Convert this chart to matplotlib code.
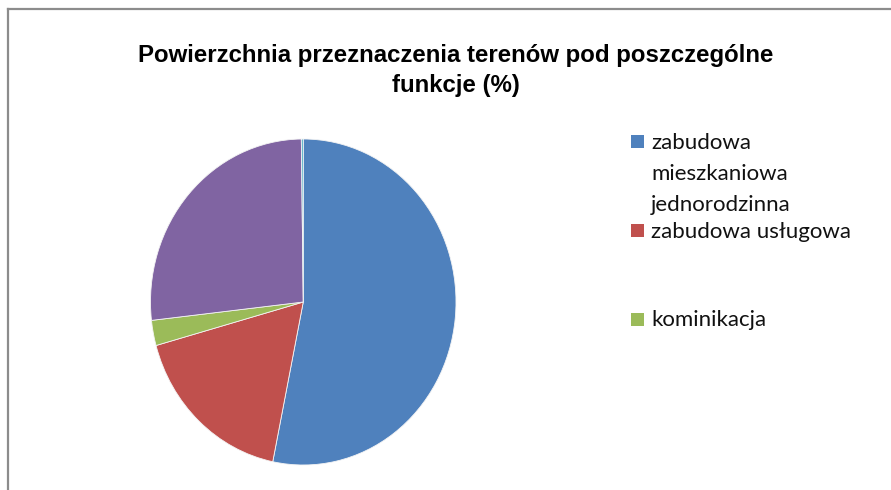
import matplotlib
matplotlib.use('Agg')
import matplotlib.pyplot as plt
from matplotlib.patches import Rectangle

# Data (%)
categories = ['zabudowa\nmieszkaniowa\njednorodzinna', 'zabudowa usługowa', 'kominikacja',
              'tereny zieleni', 'pozostałe']
shares = [53.2, 17.5, 2.5, 26.6, 0.2]
colors = ['#4F81BD', '#C0504D', '#9BBB59', '#8064A2', '#4BACC6']
shown_in_legend = 3
title_lines = ['Powierzchnia przeznaczenia terenów pod poszczególne', 'funkcje (%)']

W, H = 891, 490
fig = plt.figure(figsize=(W / 100, H / 100), dpi=100)
fig.patch.set_facecolor('white')

def fx(px):
    return px / W

def fy(py):
    return 1 - py / H

# chart area border (cropped on right/bottom in the original)
fig.add_artist(plt.Line2D([fx(7.5), fx(7.5)], [fy(9.5), fy(H + 5)], color='#8c8c8c', lw=1.6))
fig.add_artist(plt.Line2D([fx(7.5), fx(W + 5)], [fy(9.5), fy(9.5)], color='#8c8c8c', lw=1.6))

for k, line in enumerate(title_lines):
    fig.text(fx(456), fy(62 + 30 * k), line, ha='center', va='baseline', fontsize=17.3,
             fontweight='bold', family=['Liberation Sans Narrow', 'Liberation Sans', 'DejaVu Sans'])

# pie (slightly squeezed horizontally, like the source)
ax = fig.add_axes([fx(150.5), fy(465), fx(305.5), 326 / H])
ax.pie(shares, colors=colors, startangle=90, counterclock=False, radius=1,
       wedgeprops=dict(edgecolor='#f4f4f4', linewidth=0.6))
ax.set_aspect('auto')
ax.set_xlim(-1, 1)
ax.set_ylim(-1, 1)
ax.axis('off')

# legend (only first entries visible in the original)
sq_centers = [142, 230.5, 319.5]
for i in range(shown_in_legend):
    yc = sq_centers[i]
    fig.add_artist(Rectangle((fx(631), fy(yc + 6.5)), fx(13), 13 / H, transform=fig.transFigure,
                             facecolor=colors[i], edgecolor='none'))
    for j, line in enumerate(categories[i].split('\n')):
        fig.text(fx(651), fy(yc + 7 + 31 * j), line, ha='left', va='baseline', fontsize=16,
                 family=['Lato', 'DejaVu Sans'], color='#111111')

fig.savefig('out.png', dpi=100)
